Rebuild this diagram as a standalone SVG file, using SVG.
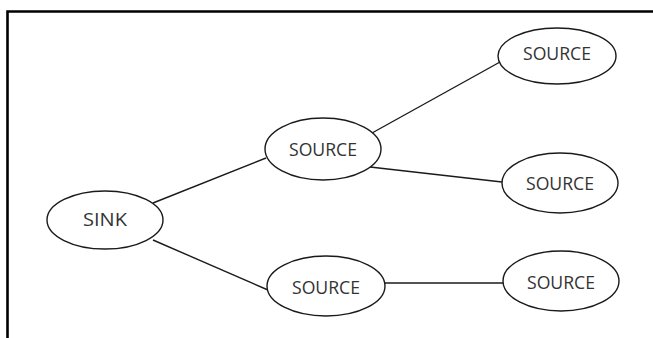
<svg xmlns="http://www.w3.org/2000/svg" width="653" height="338" viewBox="0 0 653 338">
  <style>
    .node ellipse { fill: #ffffff; stroke: #1a1a1a; stroke-width: 1.4; }
    .node text { font-family: "Open Sans", "Liberation Sans", sans-serif; font-size: 18px; fill: #333333; text-anchor: middle; dominant-baseline: central; }
    .edges line { stroke: #1a1a1a; stroke-width: 1.4; }
    .frame { fill: none; stroke: #000000; stroke-width: 2.6; }
  </style>
  <rect width="653" height="338" fill="#ffffff"/>
  <!-- open frame: top and left edges -->
  <path class="frame" d="M7.5 338 V11.5 H653"/>

  <g class="edges">
    <line x1="153" y1="203" x2="266" y2="158"/>
    <line x1="153" y1="240" x2="268" y2="290"/>
    <line x1="372" y1="133" x2="500" y2="62"/>
    <line x1="370" y1="167" x2="502" y2="182"/>
    <line x1="385" y1="283" x2="503" y2="283"/>
  </g>

  <g id="sink" class="node">
    <ellipse cx="105" cy="220" rx="58" ry="29"/>
    <text x="105" y="219" textLength="44" lengthAdjust="spacingAndGlyphs">SINK</text>
  </g>
  <g id="source-mid-top" class="node">
    <ellipse cx="323" cy="149" rx="58" ry="31"/>
    <text x="323" y="149" textLength="68" lengthAdjust="spacingAndGlyphs">SOURCE</text>
  </g>
  <g id="source-mid-bottom" class="node">
    <ellipse cx="326" cy="286" rx="59" ry="30"/>
    <text x="326" y="287" textLength="68" lengthAdjust="spacingAndGlyphs">SOURCE</text>
  </g>
  <g id="source-right-top" class="node">
    <ellipse cx="557" cy="56" rx="59" ry="28"/>
    <text x="557" y="53" textLength="68" lengthAdjust="spacingAndGlyphs">SOURCE</text>
  </g>
  <g id="source-right-mid" class="node">
    <ellipse cx="560" cy="183" rx="58" ry="30"/>
    <text x="560" y="183" textLength="68" lengthAdjust="spacingAndGlyphs">SOURCE</text>
  </g>
  <g id="source-right-bottom" class="node">
    <ellipse cx="561" cy="281" rx="58" ry="30"/>
    <text x="561" y="282" textLength="68" lengthAdjust="spacingAndGlyphs">SOURCE</text>
  </g>
</svg>
